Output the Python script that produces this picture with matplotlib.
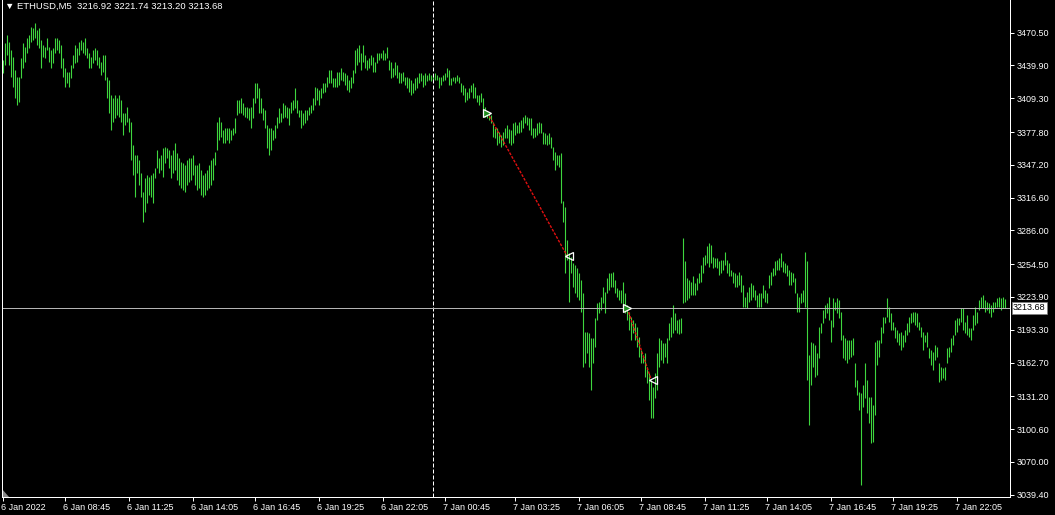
import numpy as np
import matplotlib
matplotlib.use("Agg")
import matplotlib.pyplot as plt
from matplotlib.transforms import ScaledTranslation, blended_transform_factory
from matplotlib.patches import Polygon

plt.rcParams['font.family'] = ['Liberation Sans', 'DejaVu Sans']

symbol = "ETHUSD,M5"
last_ohlc = [3216.92, 3221.74, 3213.20, 3213.68]

# M5 bars, high / low (one per bar, left to right)
bar_high = [
    3445, 3461, 3468, 3462, 3454, 3448, 3436, 3429, 3429, 3447, 3461, 3457, 3466, 3468, 3476, 3475, 3480, 3473, 3475, 3464,
    3459, 3457, 3466, 3457, 3454, 3456, 3466, 3466, 3464, 3459, 3447, 3438, 3434, 3434, 3440, 3450, 3459, 3456, 3462, 3464,
    3462, 3466, 3456, 3452, 3448, 3454, 3456, 3454, 3448, 3443, 3450, 3450, 3429, 3426, 3412, 3410, 3412, 3410, 3412, 3408,
    3396, 3396, 3401, 3391, 3387, 3366, 3356, 3356, 3352, 3340, 3322, 3335, 3338, 3336, 3338, 3340, 3344, 3361, 3354, 3356,
    3363, 3364, 3363, 3361,
    3356, 3361, 3368, 3358, 3354, 3350, 3349, 3347, 3352, 3354, 3354, 3356, 3347, 3347, 3349, 3342, 3338, 3340, 3342, 3347,
    3352, 3354, 3359,
    3387, 3392, 3387, 3380, 3382, 3382, 3382, 3380, 3382, 3391, 3408, 3408, 3410, 3405, 3401, 3401, 3400, 3401, 3410, 3424,
    3424, 3419, 3410, 3400, 3398, 3384, 3382, 3382, 3380, 3384, 3392, 3400, 3396, 3405, 3403, 3401, 3400, 3406, 3408, 3419,
    3408, 3398, 3398, 3396, 3398, 3398, 3401, 3403, 3410, 3420, 3419, 3417, 3419, 3424, 3424, 3429, 3436, 3436, 3428, 3428,
    3434, 3434,
    3438, 3434, 3433, 3431, 3426, 3429, 3436, 3454, 3456, 3459, 3452, 3459, 3450, 3445, 3447, 3450, 3448, 3443, 3452, 3452,
    3452, 3454, 3452, 3457, 3445, 3443, 3438, 3443, 3440, 3434, 3433, 3434, 3429, 3429, 3428, 3426, 3424, 3428, 3429, 3433,
    3433, 3431, 3433, 3431, 3433, 3431, 3431, 3433, 3431, 3429, 3429, 3431, 3433, 3438, 3436, 3428, 3429, 3429, 3431, 3429,
    3424, 3422, 3419, 3415, 3419, 3422, 3424, 3420, 3412, 3412, 3414, 3410, 3401, 3396, 3396, 3394, 3387, 3382, 3382, 3378,
    3375, 3378, 3382, 3384, 3381,
    3380, 3386, 3387, 3384, 3387, 3389, 3392, 3394, 3392, 3391, 3391, 3382, 3382, 3386, 3387, 3386, 3378, 3377, 3375, 3377,
    3373, 3364, 3359, 3356, 3356, 3358, 3313, 3308, 3277, 3265, 3261, 3256, 3254, 3251, 3246, 3240, 3228, 3191, 3191, 3190,
    3186, 3186, 3204, 3218, 3219, 3224, 3233, 3229, 3242, 3246, 3246, 3247, 3240, 3232, 3230, 3230, 3238, 3228, 3216, 3210,
    3205, 3202, 3200, 3196, 3187, 3174, 3170, 3172, 3159, 3153, 3146, 3140, 3153, 3172, 3186, 3184, 3181, 3181, 3186, 3200,
    3205, 3216, 3209, 3202, 3203,
    3204, 3279, 3257, 3242, 3240, 3238, 3243, 3237, 3242, 3246, 3254, 3261, 3263, 3271, 3274, 3272, 3261, 3260, 3260, 3257,
    3258, 3258, 3266, 3258, 3256, 3249, 3247, 3246, 3244, 3247, 3244, 3235, 3224, 3229, 3233, 3237, 3235, 3230, 3226, 3228,
    3228, 3235, 3230, 3228, 3244, 3247, 3251, 3257, 3258, 3260, 3265, 3257, 3256, 3254, 3249, 3247, 3246, 3242, 3228, 3224,
    3228, 3230, 3266, 3257, 3170, 3182, 3181, 3179, 3172, 3196, 3200, 3212, 3216, 3218, 3224, 3202, 3223, 3219, 3223, 3221,
    3210, 3188, 3186, 3184, 3184,
    3184, 3186, 3162, 3146, 3135, 3134, 3142, 3162, 3146, 3131, 3131, 3123, 3182, 3184, 3184, 3196, 3205, 3205, 3223, 3215,
    3209, 3201, 3196, 3193, 3190, 3191, 3188, 3193, 3200, 3205, 3209, 3210, 3210, 3209, 3201, 3196, 3191, 3188, 3191, 3176,
    3174, 3173, 3179, 3177, 3162, 3159, 3158, 3159, 3176, 3177, 3186, 3188, 3202, 3204, 3204, 3214, 3214, 3201, 3207, 3195,
    3195, 3207, 3215, 3210, 3221, 3224, 3226, 3221, 3219, 3218, 3216, 3219, 3219, 3223, 3224, 3223, 3224, 3221.74,
]
bar_low = [
    3433, 3440, 3450, 3440, 3429, 3420, 3410, 3403, 3406, 3428, 3438, 3443, 3452, 3456, 3462, 3464, 3466, 3459, 3456, 3438,
    3448, 3447, 3454, 3443, 3438, 3442, 3452, 3454, 3452, 3438, 3429, 3420, 3424, 3420, 3428, 3438, 3442, 3443, 3450, 3454,
    3452, 3450, 3447, 3438, 3438, 3442, 3445, 3440, 3438, 3431, 3434, 3426, 3410, 3396, 3380, 3387, 3391, 3394, 3392, 3387,
    3375, 3384, 3387, 3378, 3352, 3338, 3317, 3340, 3328, 3317, 3294, 3303, 3312, 3319, 3317, 3312, 3335, 3344, 3340, 3342,
    3336, 3349, 3354, 3344,
    3335, 3340, 3342, 3333, 3328, 3326, 3324, 3322, 3328, 3331, 3333, 3338, 3328, 3324, 3326, 3319, 3317, 3319, 3324, 3326,
    3328, 3333, 3347,
    3361, 3370, 3373, 3368, 3368, 3370, 3368, 3370, 3375, 3377, 3394, 3396, 3396, 3394, 3392, 3391, 3389, 3382, 3391, 3405,
    3410, 3396, 3396, 3389, 3382, 3363, 3356, 3361, 3370, 3372, 3382, 3386, 3387, 3391, 3392, 3391, 3384, 3396, 3398, 3400,
    3396, 3392, 3382, 3384, 3386, 3389, 3394, 3396, 3398, 3403, 3408, 3403, 3410, 3414, 3415, 3420, 3424, 3424, 3420, 3420,
    3420, 3422,
    3426, 3425, 3422, 3417, 3415, 3419, 3424, 3433, 3440, 3443, 3436, 3443, 3438, 3436, 3438, 3440, 3434, 3434, 3442, 3445,
    3447, 3445, 3445, 3447, 3436, 3428, 3429, 3431, 3428, 3424, 3424, 3425, 3422, 3419, 3415, 3412, 3414, 3417, 3419, 3424,
    3425, 3420, 3422, 3425, 3426, 3425, 3426, 3426, 3426, 3419, 3422, 3425, 3426, 3429, 3422, 3422, 3425, 3424, 3425, 3424,
    3415, 3412, 3406, 3408, 3410, 3415, 3410, 3410, 3406, 3403, 3406, 3398, 3392, 3391, 3389, 3386, 3373, 3372, 3366, 3368,
    3364, 3366, 3372, 3372, 3368,
    3366, 3368, 3375, 3377, 3377, 3378, 3382, 3386, 3384, 3380, 3375, 3372, 3373, 3375, 3377, 3377, 3367, 3367, 3366, 3367,
    3363, 3352, 3342, 3347, 3345, 3312, 3294, 3246, 3258, 3219, 3246, 3233, 3228, 3224, 3221, 3210, 3159, 3162, 3172, 3159,
    3137, 3162, 3177, 3202, 3209, 3212, 3218, 3209, 3228, 3230, 3233, 3233, 3228, 3224, 3221, 3218, 3212, 3209, 3202, 3193,
    3184, 3190, 3184, 3177, 3168, 3162, 3162, 3149, 3144, 3128, 3111, 3111, 3130, 3137, 3159, 3165, 3162, 3168, 3162, 3184,
    3187, 3190, 3193, 3190, 3189,
    3190, 3218, 3219, 3221, 3223, 3226, 3226, 3226, 3230, 3237, 3238, 3246, 3254, 3256, 3252, 3256, 3251, 3252, 3251, 3244,
    3246, 3249, 3254, 3246, 3243, 3243, 3237, 3233, 3233, 3235, 3229, 3215, 3215, 3214, 3219, 3221, 3224, 3221, 3215, 3215,
    3215, 3223, 3219, 3218, 3232, 3235, 3243, 3244, 3249, 3249, 3252, 3247, 3246, 3243, 3235, 3235, 3238, 3228, 3210, 3210,
    3218, 3219, 3215, 3146, 3104, 3142, 3159, 3149, 3151, 3167, 3190, 3200, 3204, 3209, 3202, 3182, 3196, 3212, 3209, 3204,
    3184, 3167, 3165, 3162, 3166,
    3168, 3170, 3140, 3132, 3118, 3048, 3121, 3130, 3116, 3106, 3088, 3089, 3114, 3160, 3168, 3181, 3190, 3200, 3205, 3201,
    3193, 3193, 3186, 3182, 3179, 3174, 3177, 3182, 3188, 3191, 3200, 3201, 3198, 3196, 3193, 3187, 3174, 3182, 3177, 3167,
    3160, 3156, 3165, 3168, 3145, 3146, 3148, 3146, 3162, 3168, 3173, 3179, 3188, 3191, 3198, 3201, 3193, 3190, 3188, 3187,
    3184, 3193, 3198, 3200, 3212, 3214, 3214, 3210, 3212, 3209, 3205, 3210, 3214, 3215, 3215, 3212, 3214, 3213.20,
]

# closed trades: (open bar, open price, close bar, close price)
trades = [
    (242, 3396.0, 282, 3262.0),
    (312, 3213.4, 324, 3146.5),
]

price_ticks = [3470.50, 3439.90, 3409.30, 3377.80, 3347.20, 3316.60, 3286.00, 3254.50,
               3223.90, 3193.30, 3162.70, 3131.20, 3100.60, 3070.00, 3039.40]
time_labels = ["6 Jan 2022", "6 Jan 08:45", "6 Jan 11:25", "6 Jan 14:05", "6 Jan 16:45",
               "6 Jan 19:25", "6 Jan 22:05", "7 Jan 00:45", "7 Jan 03:25", "7 Jan 06:05",
               "7 Jan 08:45", "7 Jan 11:25", "7 Jan 14:05", "7 Jan 16:45", "7 Jan 19:25",
               "7 Jan 22:05"]
time_bars = [0, 31, 63, 95, 126, 158, 190, 221, 256, 288, 319, 351, 382, 414, 445, 477]
day_start_bar = 215

green = '#3ed63e'
px = 0.72  # one pixel in points

fig = plt.figure(figsize=(10.55, 5.15), dpi=100, facecolor='black')
ax = fig.add_axes([2 / 1055, 18 / 515, 1008 / 1055, 497 / 515])
ax.set_facecolor('black')

idx = np.arange(len(bar_high))
ax.vlines(idx, bar_low, bar_high, color=green, linewidth=0.8)

ax.axvline(day_start_bar, color='white', linewidth=px, linestyle=(0, (4, 2)))
ax.axhline(last_ohlc[3], color='#b4b4b4', linewidth=px)

for o_i, o_p, c_i, c_p in trades:
    ax.plot([o_i, c_i], [o_p, c_p], color='#e01010', linewidth=1.0, linestyle=(0, (2, 1)))
    ax.plot(o_i, o_p, marker='>', markersize=6, markerfacecolor='#1e8c1e',
            markeredgecolor='white', markeredgewidth=0.9)
    ax.plot(c_i + 0.8, c_p, marker='<', markersize=6, markerfacecolor='none',
            markeredgecolor='white', markeredgewidth=0.9)

ax.set_xlim(-0.65, 503.35)
ax.set_ylim(3037.25, 3501.0)

for side in ['left', 'bottom', 'right']:
    ax.spines[side].set_color('white')
    ax.spines[side].set_linewidth(px)
ax.spines['top'].set_visible(False)
ax.spines['right'].set_linestyle((0, (4, 1)))

ax.yaxis.tick_right()
ax.set_yticks(price_ticks)
ax.set_yticklabels([f"{v:.2f}" for v in price_ticks])
ax.tick_params(axis='y', colors='white', labelcolor='white', length=3, width=px,
               pad=2, labelsize=6.5)

ax.set_xticks(time_bars)
ax.set_xticklabels(time_labels)
ax.tick_params(axis='x', colors='white', labelcolor='white', length=3, width=px,
               pad=1.5, labelsize=6.5)
shift = ScaledTranslation(-2 / 100, 0, fig.dpi_scale_trans)
for lab in ax.get_xticklabels():
    lab.set_ha('left')
    lab.set_transform(lab.get_transform() + shift)

# last price tag on the price scale
tr = blended_transform_factory(ax.transAxes, ax.transData)
ax.text(1.003, last_ohlc[3], f"{last_ohlc[3]:.2f}", transform=tr, ha='left', va='center',
        fontsize=6.5, color='black', clip_on=False,
        bbox=dict(boxstyle='square,pad=0.15', facecolor='white', edgecolor='#808080', linewidth=0.5))

# chart shift marker in the bottom-left corner
ax.add_patch(Polygon([(0, 0), (7 / 1008, 0), (0, 8 / 497)], closed=True,
                     transform=ax.transAxes, facecolor='#8a8a8a', edgecolor='none', clip_on=False))

fig.text(5 / 1055, 1 - 6 / 515,
         "\u25bc " + symbol + "  " + " ".join(f"{v:.2f}" for v in last_ohlc),
         color='white', fontsize=6.8, va='center', ha='left')

fig.savefig('out.png', dpi=100, facecolor='black')
